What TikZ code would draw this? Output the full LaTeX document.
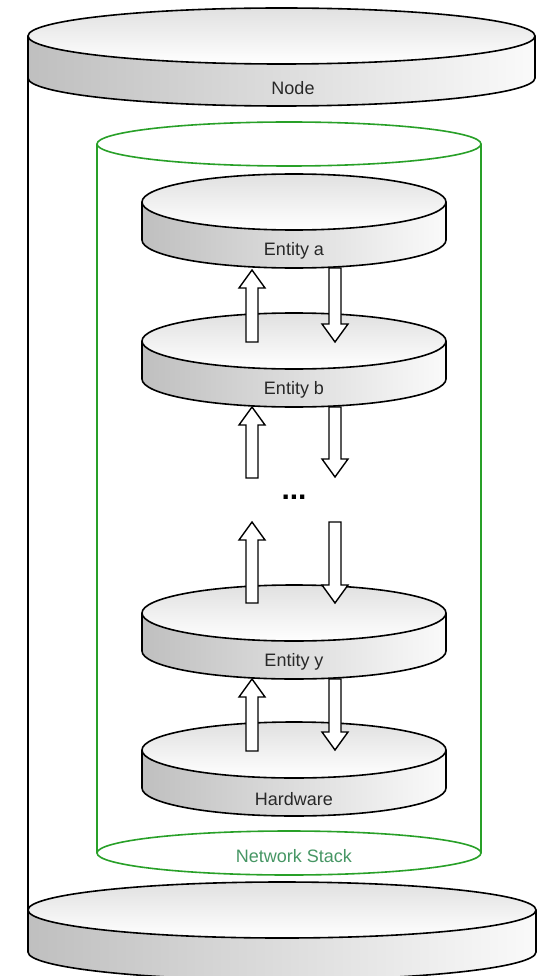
\documentclass[tikz,border=0pt]{standalone}
\usepackage{fontspec}
\setmainfont{Liberation Sans}
\usetikzlibrary{calc}

\definecolor{stackgreen}{RGB}{40,160,40}
\definecolor{stacktext}{RGB}{70,150,100}
\definecolor{labelgray}{RGB}{40,40,40}

\tikzset{
  diskline/.style={draw=black, line width=1.6pt},
  disklabel/.style={font=\fontsize{18}{21}\selectfont, text=labelgray, inner sep=0pt},
  stackline/.style={draw=stackgreen, line width=1.6pt},
  blockarr/.style={draw=black, fill=white, line width=1.4pt, line join=miter},
}

% a flat disk: name, centre x, centre y (downwards), x radius, y radius, thickness, label
\newcommand\drawdisk[7]{%
  \shade[left color=gray!50, right color=gray!4]
    ({#2-#4},{-#3}) -- ({#2-#4},{-#3-#6})
    arc[start angle=180, end angle=360, x radius=#4, y radius=#5]
    -- ({#2+#4},{-#3})
    arc[start angle=0, end angle=-180, x radius=#4, y radius=#5] -- cycle;
  \draw[diskline] ({#2-#4},{-#3}) -- ({#2-#4},{-#3-#6})
    arc[start angle=180, end angle=360, x radius=#4, y radius=#5]
    -- ({#2+#4},{-#3});
  \shadedraw[top color=gray!24, bottom color=white, diskline]
    (#2,{-#3}) ellipse [x radius=#4, y radius=#5];
  \node[disklabel] (#1) at (#2,{-#3-#5-#6/2-2}) {#7};%
}

% vertical block arrow from one named coordinate to another
\newcommand\blockarrow[2]{%
  \draw[blockarr] let \p1=(#1), \p2=(#2), \n1={sign(\y2-\y1)} in
    ({\x1-6pt},\y1) -- ({\x1-6pt},{\y2-\n1*18pt}) -- ({\x1-13pt},{\y2-\n1*18pt})
    -- (\x1,\y2) -- ({\x1+13pt},{\y2-\n1*18pt}) -- ({\x1+6pt},{\y2-\n1*18pt})
    -- ({\x1+6pt},\y1) -- cycle;%
}

\begin{document}
\begin{tikzpicture}[x=1pt, y=1pt]
  \useasboundingbox (0,0) rectangle (536,-976);

  % outer node cylinder
  \drawdisk{nodetop}{281.5}{36}{253.5}{28}{42}{}
  \node[disklabel] (node) at (293,-88) {Node};
  \draw[line width=1.6pt] (28,-78) -- (28,-910);
  \drawdisk{nodebase}{282}{910}{254}{28}{42}{}

  % network stack cylinder
  \draw[stackline] (97,-144) -- (97,-853);
  \draw[stackline] (481,-144) -- (481,-853);
  \draw[stackline] (289,-144) ellipse [x radius=192, y radius=22];
  \draw[stackline] (289,-853) ellipse [x radius=192, y radius=22];
  \node[disklabel, text=stacktext] (stack) at (294,-856) {Network Stack};

  % protocol entities
  \drawdisk{ea}{294}{202}{152}{28}{38}{Entity a}
  \drawdisk{eb}{294}{341}{152}{28}{38}{Entity b}
  \drawdisk{ey}{294}{613}{152}{28}{38}{Entity y}
  \drawdisk{hw}{294}{750}{152}{28}{38}{Hardware}

  \node[font=\bfseries\fontsize{30}{34}\selectfont, inner sep=0pt] (dots) at (294,-497) {...};

  % arrow end points
  \coordinate (ab-up-s) at (252,-342);  \coordinate (ab-up-e) at (252,-270);
  \coordinate (ab-dn-s) at (335,-268);  \coordinate (ab-dn-e) at (335,-342);
  \coordinate (bd-up-s) at (252,-478);  \coordinate (bd-up-e) at (252,-407);
  \coordinate (bd-dn-s) at (335,-407);  \coordinate (bd-dn-e) at (335,-477);
  \coordinate (dy-up-s) at (252,-603);  \coordinate (dy-up-e) at (252,-522);
  \coordinate (dy-dn-s) at (335,-522);  \coordinate (dy-dn-e) at (335,-603);
  \coordinate (yh-up-s) at (252,-751);  \coordinate (yh-up-e) at (252,-679);
  \coordinate (yh-dn-s) at (335,-679);  \coordinate (yh-dn-e) at (335,-750);

  \blockarrow{ab-up-s}{ab-up-e}
  \blockarrow{ab-dn-s}{ab-dn-e}
  \blockarrow{bd-up-s}{bd-up-e}
  \blockarrow{bd-dn-s}{bd-dn-e}
  \blockarrow{dy-up-s}{dy-up-e}
  \blockarrow{dy-dn-s}{dy-dn-e}
  \blockarrow{yh-up-s}{yh-up-e}
  \blockarrow{yh-dn-s}{yh-dn-e}
\end{tikzpicture}
\end{document}
